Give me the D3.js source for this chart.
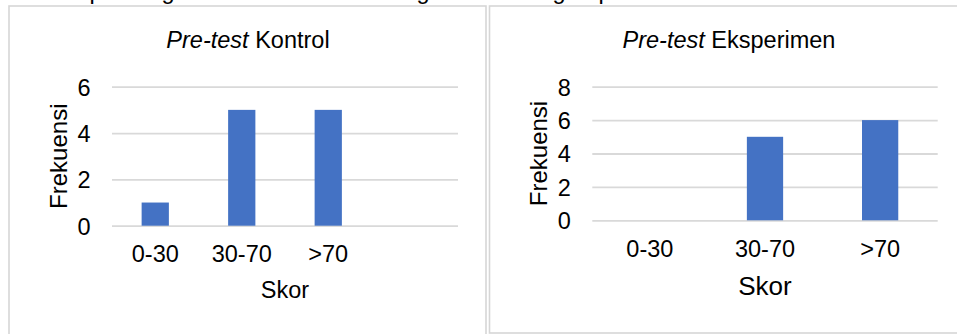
<!DOCTYPE html>
<html>
<head>
<meta charset="utf-8">
<script src="https://cdn.jsdelivr.net/npm/d3@7"></script>
<style>
  html, body { margin: 0; padding: 0; background: #fff; }
  svg { display: block; }
  text { font-family: "Liberation Sans", Arial, sans-serif; fill: #000; }
</style>
</head>
<body>
<svg id="fig" width="957" height="334"></svg>
<script>
// Score categories and frequencies for the two pre-test groups
const categoriesKontrol = ["0-30", "30-70", ">70", ""];
const frekuensiKontrol = [1, 5, 5, null];
const yTicksKontrol = [0, 2, 4, 6];

const categoriesEksperimen = ["0-30", "30-70", ">70"];
const frekuensiEksperimen = [0, 5, 6];
const yTicksEksperimen = [0, 2, 4, 6, 8];

const titleKontrol = ["Pre-test", " Kontrol"];
const titleEksperimen = ["Pre-test", " Eksperimen"];
const xTitle = "Skor";
const yTitle = "Frekuensi";

// Tail of the paragraph line running above the charts
const textAbove = [
  { word: "Adapun", idx: 3, x: 96 },
  { word: "tiga", idx: 2, x: 168 },
  { word: "bagi", idx: 2, x: 423 },
  { word: "lagi", idx: 2, x: 559 },
  { word: "pada", idx: 0, x: 605 }
];

const svg = d3.select("#fig");
const FONT = 23.5;
const BAR = "#4472c4";
const GRID = "#d9d9d9";

// paragraph fragment, only the descenders fall inside the view
const para = svg.append("g");
textAbove.forEach(w => {
  const t = para.append("text").attr("y", -1.5).attr("font-size", FONT).text(w.word).attr("x", 0);
  const node = t.node();
  const pre = w.idx > 0 ? node.getSubStringLength(0, w.idx) : 0;
  const ch = node.getSubStringLength(w.idx, 1);
  t.attr("x", w.x - pre - ch / 2);
});

function drawChart(cfg) {
  const g = svg.append("g");

  // chart frame
  g.append("rect")
    .attr("x", cfg.box[0]).attr("y", cfg.box[1])
    .attr("width", cfg.box[2]).attr("height", cfg.box[3])
    .attr("fill", "#fff").attr("stroke", "#d6d6d6").attr("stroke-width", 1.6);

  const x = d3.scaleBand().domain(cfg.categories).range([cfg.left, cfg.right]);
  const y = d3.scaleLinear().domain([0, d3.max(cfg.ticks)]).range([cfg.zero, cfg.top]);
  const width = cfg.right - cfg.left;

  // gridlines + value labels
  const ya = g.append("g")
    .attr("transform", `translate(${cfg.left},0)`)
    .call(d3.axisLeft(y).tickValues(cfg.ticks).tickSize(-width).tickPadding(21.5).tickFormat(d3.format("d")));
  ya.select(".domain").remove();
  ya.selectAll(".tick line").attr("stroke", GRID).attr("stroke-width", 1.8);
  ya.selectAll(".tick text").attr("font-size", FONT).attr("fill", "#000")
    .attr("font-family", "Liberation Sans, Arial, sans-serif").attr("dy", "0.36em");

  // bars
  const bw = x.bandwidth() * 0.315;
  g.selectAll("rect.bar")
    .data(cfg.values.map((v, i) => ({ c: cfg.categories[i], v })).filter(d => d.v != null && d.v > 0))
    .enter().append("rect")
    .attr("class", "bar")
    .attr("x", d => x(d.c) + x.bandwidth() / 2 - bw / 2)
    .attr("y", d => y(d.v))
    .attr("width", bw)
    .attr("height", d => y(0) - y(d.v))
    .attr("fill", BAR);

  // category labels
  const xa = g.append("g")
    .attr("transform", `translate(0,${cfg.zero})`)
    .call(d3.axisBottom(x).tickSize(0).tickPadding(19.6));
  xa.select(".domain").remove();
  xa.selectAll(".tick text").attr("font-size", FONT).attr("fill", "#000")
    .attr("font-family", "Liberation Sans, Arial, sans-serif");

  // chart title
  const tt = g.append("text")
    .attr("x", cfg.box[0] + cfg.titleCx).attr("y", 48)
    .attr("text-anchor", "middle").attr("font-size", FONT);
  tt.append("tspan").attr("font-style", "italic").text(cfg.title[0]);
  tt.append("tspan").text(cfg.title[1]);

  // axis titles
  g.append("text")
    .attr("x", (cfg.left + cfg.right) / 2).attr("y", cfg.zero + cfg.xTitleOff)
    .attr("text-anchor", "middle").attr("font-size", cfg.xTitleSize)
    .text(xTitle);

  g.append("text")
    .attr("transform", `translate(${cfg.left - 45.5},${(cfg.zero + cfg.top) / 2}) rotate(-90)`)
    .attr("text-anchor", "middle").attr("font-size", 24)
    .text(yTitle);
}

drawChart({
  box: [9, 6, 477, 340],
  titleCx: 239,
  categories: categoriesKontrol,
  values: frekuensiKontrol,
  ticks: yTicksKontrol,
  left: 112, right: 458, zero: 225.7, top: 86.7,
  title: titleKontrol,
  xTitleOff: 71.8, xTitleSize: 23.5
});

drawChart({
  box: [489.5, 6, 480, 327],
  titleCx: 239.5,
  categories: categoriesEksperimen,
  values: frekuensiEksperimen,
  ticks: yTicksEksperimen,
  left: 592.3, right: 937.7, zero: 220.3, top: 86.7,
  title: titleEksperimen,
  xTitleOff: 74.7, xTitleSize: 26
});
</script>
</body>
</html>
